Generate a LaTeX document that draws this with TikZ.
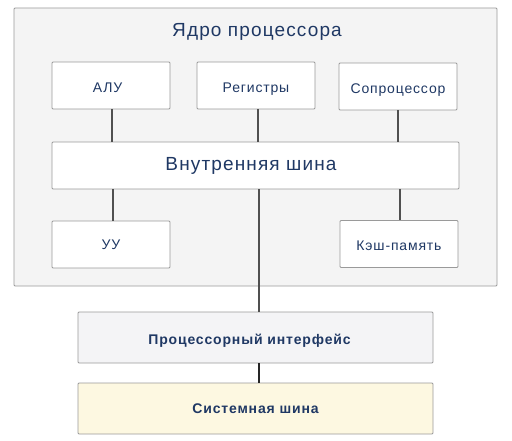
\documentclass[tikz,border=0pt]{standalone}
\usepackage{fontspec}
\setmainfont[LetterSpace=6]{Liberation Sans}
\definecolor{txt}{HTML}{1F3864}
\definecolor{bord}{HTML}{9A9A9A}
\definecolor{lin}{HTML}{505050}
\definecolor{corefill}{HTML}{F4F4F4}
\definecolor{ifill}{HTML}{F4F4F6}
\definecolor{sfill}{HTML}{FDF8E1}
\begin{document}
\begin{tikzpicture}[x=1pt,y=-1pt,
  unit/.style={draw=bord,line width=0.8pt,fill=white,rounded corners=1pt,minimum width=118pt,minimum height=47pt,inner sep=0pt,text=txt,font=\fontsize{14}{16}\selectfont,text height=14pt,text depth=0pt},
  wide/.style={draw=bord,line width=0.8pt,rounded corners=1pt,minimum width=355pt,minimum height=51pt,inner sep=0pt,text=txt,font=\fontsize{14}{16}\selectfont\bfseries,text depth=0pt},
  link/.style={draw=lin,line width=1.6pt}]
\useasboundingbox (0,0) rectangle (512,441);
\node[draw=bord,line width=0.8pt,fill=corefill,rounded corners=1pt,minimum width=483pt,minimum height=278pt,inner sep=0pt] (core) at (255.5,147) {};
\node[text=txt,font=\fontsize{19}{22}\selectfont,text height=14.6pt,text depth=0pt] (title) at (257,29) {Ядро процессора};
\node[unit] (alu) at (111,85.5) {АЛУ\hspace*{7pt}};
\node[unit] (reg) at (256,85.5) {Регистры};
\node[unit] (cop) at (398,86.5) {Сопроцессор};
\node[unit,minimum width=407pt,text height=11pt] (bus) at (255.5,165.5) {\fontsize{19}{22}\selectfont Внутренняя шина\hspace*{9pt}};
\node[unit,text height=11pt] (uu) at (111,244.5) {УУ};
\node[unit] (cache) at (399,244) {Кэш-память};
\node[wide,fill=ifill,text height=13pt] (pi) at (255.5,337.5) {Процессорный интерфейс\hspace*{12pt}};
\node[wide,fill=sfill,text height=10pt] (sb) at (255.5,408.5) {Системная шина};
\draw[link] (alu.south -| 112,0) -- (bus.north -| 112,0);
\draw[link] (reg.south -| 258,0) -- (bus.north -| 258,0);
\draw[link] (cop.south -| 398,0) -- (bus.north -| 398,0);
\draw[link] (bus.south -| 113,0) -- (uu.north -| 113,0);
\draw[link] (bus.south -| 400,0) -- (cache.north -| 400,0);
\draw[link] (bus.south -| 259,0) -- (pi.north -| 259,0);
\draw[link,draw=black!85] (pi.south -| 259,0) -- (sb.north -| 259,0);
\end{tikzpicture}
\end{document}
